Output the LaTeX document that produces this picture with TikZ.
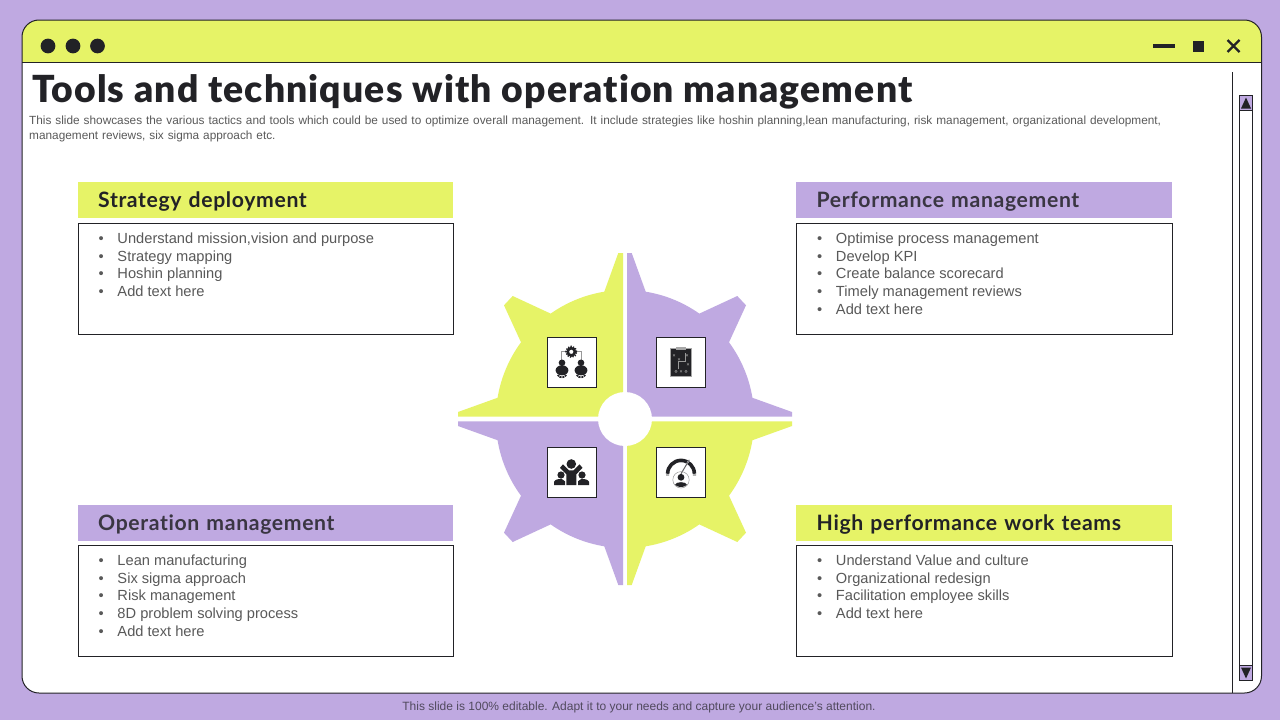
\documentclass[tikz,border=0pt]{standalone}
\usepackage{fontspec}
\setmainfont{Liberation Sans}
\newfontfamily\titlefont[LetterSpace=3,Ligatures=NoCommon]{Lato Black}
\newfontfamily\headfont[LetterSpace=3,Ligatures=NoCommon]{Lato Bold}
\definecolor{lil}{HTML}{BFA9E1}
\definecolor{lim}{HTML}{E6F367}
\definecolor{ink}{HTML}{222226}
\definecolor{bodytxt}{HTML}{595959}
\newcommand{\bulline}[1]{\makebox[19pt][l]{•}#1}
\newcommand{\bullist}[1]{\parbox[c][105pt][t]{335pt}{\fontsize{14.65pt}{17.7pt}\selectfont\color{bodytxt}\raggedright\rule{0pt}{17pt}#1}}
\tikzset{
  headbox/.style={anchor=north west,minimum width=375pt,minimum height=36pt,inner xsep=20pt,inner ysep=0pt,text width=335pt,align=left,font=\headfont\fontsize{21.2pt}{24pt}\selectfont},
  bodybox/.style={anchor=north west,draw=ink,line width=1pt,fill=white,minimum width=375pt,minimum height=111pt,inner xsep=19.5pt,inner ysep=3pt,align=left},
  iconbox/.style={anchor=center,draw=ink,line width=1pt,fill=white,minimum width=49.5pt,minimum height=50pt,inner sep=0pt},
  wline/.style={draw=ink,line width=1pt},
}
\newcommand{\quadrant}[3]{%
  \begin{scope}[shift={(625,419)},y=1pt,xscale=#1,yscale=#2]
    \fill[#3] (-2,166) -- (-6.7,166) -- (-20.7,127.3)
      arc[start angle=99.24,end angle=125.2,radius=129pt]
      -- (-112.3,123) -- (-121,113.7) -- (-104,76.7)
      arc[start angle=143.6,end angle=170.6,radius=129pt]
      -- (-167,7) -- (-167,2.3) -- (-2,2.3) -- cycle;
  \end{scope}}
\begin{document}
\begin{tikzpicture}[x=1pt,y=-1pt]
\useasboundingbox (0,0) rectangle (1280,720);
\fill[lil] (0,0) rectangle (1280,720);
% window
\fill[white,rounded corners=17pt] (22,20) rectangle (1261.5,693);
\fill[lim,rounded corners=17pt] (22,62.3) -- (22,20) -- (1261.5,20) -- (1261.5,62.3) -- cycle;
\fill[lim] (22,45) rectangle (1261.5,62.3);
\draw[wline,rounded corners=17pt] (22,20) rectangle (1261.5,693);
\draw[wline] (22,62.3) -- (1261.5,62.3);
\foreach \cx in {48,73,97.5} \fill[ink] (\cx,46) circle[radius=7.4pt];
\draw[ink,line width=3.6pt] (1153,46) -- (1175,46);
\fill[ink] (1193,40.5) rectangle (1204,51.5);
\draw[ink,line width=2.4pt] (1227.5,40) -- (1239.5,52) (1239.5,40) -- (1227.5,52);
% scrollbar
\draw[wline] (1232.4,72) -- (1232.4,693);
\draw[wline,fill=white] (1239.4,95.5) rectangle (1252.6,680.5);
\draw[wline,fill=lil] (1239.4,95.5) rectangle (1252.6,110.5);
\draw[wline,fill=lil] (1239.4,665) rectangle (1252.6,680.5);
\fill[ink] (1246,97.5) -- (1251,108.5) -- (1241,108.5) -- cycle;
\fill[ink] (1246,678.5) -- (1251,667.5) -- (1241,667.5) -- cycle;
% title
\node[anchor=base west,inner sep=0pt,text=ink,font=\titlefont\fontsize{37.3pt}{40pt}\selectfont] (title) at (32,102) {Tools and techniques with operation management};
\node[anchor=north west,inner sep=0pt,text=bodytxt,text width=1180pt,align=left,font=\fontsize{11.82pt}{14.6pt}\selectfont] (sub) at (29,113.5) {\rule{0pt}{11pt}This slide showcases the various tactics and tools which could be used to optimize overall management. It include strategies like hoshin planning,lean manufacturing, risk management, organizational development,\\management reviews, six sigma approach etc.};
% headers
\node[headbox,fill=lim,text=ink] (h1) at (78,182) {\rule{0pt}{19pt}Strategy deployment};
\node[headbox,fill=lil,text=ink!85!lil,minimum width=376pt] (h2) at (796,182) {\rule{0pt}{19pt}Performance management};
\node[headbox,fill=lil,text=ink!85!lil] (h3) at (78,505) {\rule{0pt}{19pt}Operation management};
\node[headbox,fill=lim,text=ink,minimum width=376pt] (h4) at (796,505) {\rule{0pt}{19pt}High performance work teams};
% bodies
\node[bodybox] (b1) at (78,223) {\bullist{\bulline{Understand mission,vision and purpose}\\\bulline{Strategy mapping}\\\bulline{Hoshin planning}\\\bulline{Add text here}}};
\node[bodybox,minimum width=376pt] (b2) at (796,223) {\bullist{\bulline{Optimise process management}\\\bulline{Develop KPI}\\\bulline{Create balance scorecard}\\\bulline{Timely management reviews}\\\bulline{Add text here}}};
\node[bodybox] (b3) at (78,545) {\bullist{\bulline{Lean manufacturing}\\\bulline{Six sigma approach}\\\bulline{Risk management}\\\bulline{8D problem solving process}\\\bulline{Add text here}}};
\node[bodybox,minimum width=376pt] (b4) at (796,545) {\bullist{\bulline{Understand Value and culture}\\\bulline{Organizational redesign}\\\bulline{Facilitation employee skills}\\\bulline{Add text here}}};
% gear
\quadrant{1}{1}{lim}
\quadrant{-1}{1}{lil}
\quadrant{1}{-1}{lil}
\quadrant{-1}{-1}{lim}
\fill[white] (625,419) circle[radius=27pt];
\node[iconbox] (i1) at (572,362.3) {};
\node[iconbox] (i2) at (681,362.3) {};
\node[iconbox] (i3) at (572,472.3) {};
\node[iconbox] (i4) at (681,472.3) {};
% icon 1
\begin{scope}[shift={(i1.center)}]
  \draw[gray!80,line width=.8pt] (-10.3,-1) -- (-10.3,-10.5) -- (9,-10.5) -- (9,-1);
  \fill[white] (-.7,-10.5) circle[radius=6pt];
  \draw[ink,line width=2.6pt] (-.7,-10.5) circle[radius=3.6pt];
  \draw[ink,line width=1.6pt,dash pattern=on 1.3pt off 1.3pt] (-.7,-10.5) circle[radius=5.4pt];
  \foreach \px in {-10,9}{
    \fill[ink] (\px,0.5) circle[radius=3.3pt];
    \fill[ink] (\px,8) ellipse[x radius=6.4pt,y radius=5pt];
    \draw[ink,line width=1.7pt,dash pattern=on 2pt off .8pt] (\px-4.4,12.6) .. controls (\px-2,16) and (\px+2,16) .. (\px+4.4,12.6);
  }
\end{scope}
% icon 2
\begin{scope}[shift={(i2.center)}]
  \fill[ink] (-10.5,-14.5) rectangle (10.5,14);
  \draw[gray!70,line width=.5pt] (-10.5,-14.5) rectangle (10.5,14);
  \fill[gray!70] (-5.2,-15.7) rectangle (5.2,-12.7);
  \draw[gray!80,line width=.5pt] (-2.5,7) -- (-2.5,-1) -- (4,-1) -- (4,-9);
  \foreach \mx/\my in {-7/-7,-2/-3,7/2,0/9,6/-7}{
    \draw[gray!80,line width=.4pt] (\mx-1,\my-1) -- (\mx+1,\my+1) (\mx+1,\my-1) -- (\mx-1,\my+1);}
  \draw[gray!80,line width=.4pt] (-5,9) circle[radius=1.2pt] (5,9) circle[radius=1.2pt];
\end{scope}
% icon 3
\begin{scope}[shift={(i3.center)}]
  \fill[ink] (-.7,-8.3) circle[radius=4.8pt];
  \fill[ink] (-11,2.7) circle[radius=3.6pt] (10,2.7) circle[radius=3.6pt];
  \fill[ink] (-18,12.7) -- (-18,9.5) .. controls (-17,7) and (-13,6.5) .. (-10.5,6.5) -- (-7,9) -- (-7,12.7) -- cycle;
  \fill[ink] (17,12.7) -- (17,9.5) .. controls (16,7) and (12,6.5) .. (9.5,6.5) -- (6,9) -- (6,12.7) -- cycle;
  \fill[ink] (-5.7,12.7) -- (-5.7,2) -- (-12,-4.5) -- (-9,-8) -- (-3,-2) -- (1.5,-2) -- (7.5,-8) -- (10.5,-4.5) -- (4.3,2) -- (4.3,12.7) -- cycle;
\end{scope}
% icon 4
\begin{scope}[shift={(i4.center)}]
  \begin{scope}[y=1pt]
    \draw[ink,line width=3.6pt] (13.4,-1.5) arc[start angle=0,end angle=180,radius=13.4pt];
    \draw[white,line width=1.4pt] (0,-1.5) -- (8.6,13);
    \draw[ink!70,line width=1pt] (0,-1.5) -- (8.3,12.5);
  \end{scope}
  \fill[gray!60] (-15,1.5) rectangle (-11.8,3.5) (11.8,1.5) rectangle (15,3.5);
  \draw[gray!80,line width=.5pt] (0,7.5) circle[radius=8.2pt];
  \fill[ink] (0,5) circle[radius=3.4pt];
  \fill[ink] (-6,12.5) .. controls (-5,9) and (5,9) .. (6,12.5) .. controls (3,15.5) and (-3,15.5) .. (-6,12.5) -- cycle;
\end{scope}
% footer
\node[anchor=center,inner sep=0pt,text=ink!70!lil,font=\fontsize{12pt}{14pt}\selectfont] (foot) at (639,707) {This slide is 100\% editable. Adapt it to your needs and capture your audience's attention.};
\end{tikzpicture}
\end{document}
